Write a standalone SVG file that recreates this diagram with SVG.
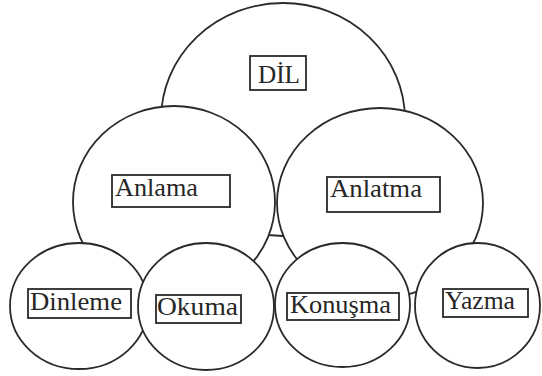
<svg xmlns="http://www.w3.org/2000/svg" width="542" height="376" viewBox="0 0 542 376">
<style>
.c{fill:#fff;stroke:#2a2a2a;stroke-width:1.8}
.b{fill:none;stroke:#2a2a2a;stroke-width:1.8}
.t{font-family:"Liberation Serif","Times New Roman",serif;font-size:26px;fill:#262626}
</style>
<rect width="542" height="376" fill="#fff"/>
<g id="dil"><ellipse class="c" cx="283" cy="119.5" rx="122" ry="116.5"/><rect class="b" x="250" y="56" width="56" height="34"/><text class="t" x="258" y="83" textLength="42" lengthAdjust="spacingAndGlyphs">DİL</text></g>
<g id="anlama"><ellipse class="c" cx="174" cy="202" rx="101" ry="96"/><rect class="b" x="112" y="175" width="118" height="32"/><text class="t" x="115" y="196" textLength="83" lengthAdjust="spacingAndGlyphs">Anlama</text></g>
<g id="anlatma"><ellipse class="c" cx="380" cy="203" rx="103" ry="95"/><rect class="b" x="327" y="177" width="113" height="35"/><text class="t" x="330" y="197" textLength="92" lengthAdjust="spacingAndGlyphs">Anlatma</text></g>
<g id="dinleme"><ellipse class="c" cx="79" cy="306" rx="69" ry="63"/><rect class="b" x="28" y="289" width="103" height="29"/><text class="t" x="30" y="310" textLength="92" lengthAdjust="spacingAndGlyphs">Dinleme</text></g>
<g id="okuma"><ellipse class="c" cx="206" cy="306.5" rx="68" ry="63.5"/><rect class="b" x="156" y="295" width="85" height="28"/><text class="t" x="157" y="315" textLength="81" lengthAdjust="spacingAndGlyphs">Okuma</text></g>
<g id="konusma"><ellipse class="c" cx="342.5" cy="305" rx="67.5" ry="62"/><rect class="b" x="287" y="293" width="112" height="27"/><text class="t" x="290" y="313" textLength="101" lengthAdjust="spacingAndGlyphs">Konuşma</text></g>
<g id="yazma"><ellipse class="c" cx="477.5" cy="305.5" rx="62.5" ry="62.5"/><rect class="b" x="443" y="289" width="85" height="28"/><text class="t" x="445" y="309" textLength="70" lengthAdjust="spacingAndGlyphs">Yazma</text></g>
<g id="connectors"></g>
</svg>
